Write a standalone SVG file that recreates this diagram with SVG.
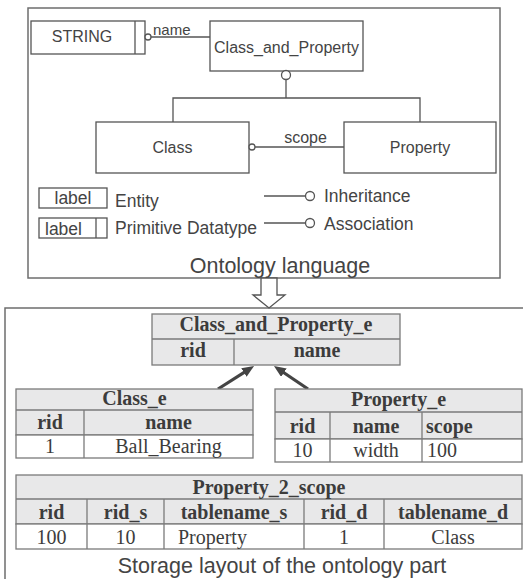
<svg xmlns="http://www.w3.org/2000/svg" width="523" height="579" viewBox="0 0 523 579">
<style>
.frame{fill:none;stroke:#6e6e6e;stroke-width:1.5}
.box{fill:#fff;stroke:#555;stroke-width:1.3}
.ln{fill:none;stroke:#555;stroke-width:1.3}
.circ{fill:#fff;stroke:#555;stroke-width:1.3}
.s{font-family:"Liberation Sans",Arial,sans-serif;fill:#444}
.s16{font-size:16px}
.s15{font-size:15px}
.s17{font-size:17.5px}
.s21{font-size:21.5px}
.tb{fill:#e8e8e9;stroke:#7a7a7a;stroke-width:1.3}
.tw{fill:#fff;stroke:#7a7a7a;stroke-width:1.3}
.tl{stroke:#7a7a7a;stroke-width:1.3}
.t{font-family:"Liberation Serif","Times New Roman",serif;font-size:20px;fill:#3c3c3c}
.b{font-weight:bold}
.m{text-anchor:middle}
.arr{stroke:#444;stroke-width:3.2;fill:none}
</style>
<defs>
<marker id="ah" markerUnits="userSpaceOnUse" viewBox="0 0 12 10" refX="4" refY="5" markerWidth="12" markerHeight="10" orient="auto">
<path d="M0,0 L12,5 L0,10 z" fill="#444"/>
</marker>
</defs>

<!-- frames -->
<rect class="frame" x="28" y="8" width="472" height="270"/>
<path class="frame" d="M5,579 L5,308 L523,308"/>

<!-- Ontology language nodes -->
<g id="STRING">
<rect class="box" x="31" y="21" width="114" height="33"/>
<line class="ln" x1="135" y1="21" x2="135" y2="54"/>
<text class="s s16 m" x="82" y="42">STRING</text>
</g>
<g id="Class_and_Property">
<rect class="box" x="210" y="21" width="153" height="50"/>
<text class="s s16 m" x="286.5" y="53">Class_and_Property</text>
</g>
<g id="Class">
<rect class="box" x="96" y="122" width="153" height="51"/>
<text class="s s16 m" x="172.5" y="153">Class</text>
</g>
<g id="Property">
<rect class="box" x="344" y="122" width="152" height="51"/>
<text class="s s16 m" x="420" y="153">Property</text>
</g>

<g id="connectors">
<line class="ln" x1="151" y1="37" x2="210" y2="37"/>
<circle class="circ" cx="148" cy="37" r="3"/>
<text class="s s15" x="153" y="35">name</text>
<path class="ln" d="M286,79.5 L286,98 M173,122 L173,98 L420,98 L420,122"/>
<circle class="circ" cx="286" cy="75" r="4.5"/>
<line class="ln" x1="255" y1="147" x2="344" y2="147"/>
<circle class="circ" cx="252" cy="147" r="3"/>
<text class="s s16 m" x="305.5" y="143">scope</text>
<polygon points="261,278 261,295 253,295 269,308 285,295 277,295 277,278" fill="#fff" stroke="#555" stroke-width="1.3"/>
<line class="arr" x1="218" y1="389" x2="247.3" y2="370.3" marker-end="url(#ah)"/>
<line class="arr" x1="308" y1="389" x2="280.6" y2="370.5" marker-end="url(#ah)"/>
</g>

<!-- legend -->
<g id="legend">
<rect class="box" x="39" y="188" width="68" height="20"/>
<text class="s s17 m" x="73" y="204">label</text>
<text class="s s17" x="115" y="206.5">Entity</text>
<rect class="box" x="39" y="218" width="68" height="20"/>
<line class="ln" x1="96" y1="218" x2="96" y2="238"/>
<text class="s s17" x="45" y="235">label</text>
<text class="s s17" x="115" y="233.5">Primitive Datatype</text>
<line class="ln" x1="264" y1="196" x2="305.5" y2="196"/>
<circle class="circ" cx="310" cy="196" r="4.5"/>
<text class="s s17" x="324" y="201.5">Inheritance</text>
<line class="ln" x1="264" y1="223" x2="305.5" y2="223"/>
<circle class="circ" cx="310" cy="223" r="4.5"/>
<text class="s s17" x="324" y="230">Association</text>
</g>
<text class="s s21 m" x="280" y="272.5">Ontology language</text>

<!-- Storage tables -->
<g id="Class_and_Property_e">
<rect class="tb" x="152" y="314" width="248" height="51"/>
<line class="tl" x1="152" y1="339" x2="400" y2="339"/>
<line class="tl" x1="234" y1="339" x2="234" y2="365"/>
<text class="t b m" x="276" y="331">Class_and_Property_e</text>
<text class="t b m" x="193" y="357">rid</text>
<text class="t b m" x="317" y="357">name</text>
</g>

<g id="Class_e">
<rect class="tb" x="16" y="389" width="237" height="46"/>
<rect class="tw" x="16" y="435" width="237" height="23"/>
<line class="tl" x1="16" y1="410" x2="253" y2="410"/>
<line class="tl" x1="84" y1="410" x2="84" y2="458"/>
<text class="t b m" x="134.5" y="405">Class_e</text>
<text class="t b m" x="50" y="429">rid</text>
<text class="t b m" x="168.5" y="429">name</text>
<text class="t m" x="50" y="453">1</text>
<text class="t m" x="168.5" y="453">Ball_Bearing</text>
</g>

<g id="Property_e">
<rect class="tb" x="275" y="389" width="247" height="50"/>
<rect class="tw" x="275" y="439" width="247" height="23"/>
<line class="tl" x1="275" y1="412" x2="522" y2="412"/>
<line class="tl" x1="330" y1="412" x2="330" y2="462"/>
<line class="tl" x1="422" y1="412" x2="422" y2="462"/>
<text class="t b m" x="398.5" y="406">Property_e</text>
<text class="t b m" x="302.5" y="433">rid</text>
<text class="t b m" x="376" y="433">name</text>
<text class="t b" x="426" y="433">scope</text>
<text class="t m" x="302.5" y="457">10</text>
<text class="t m" x="376" y="457">width</text>
<text class="t" x="427" y="457">100</text>
</g>

<g id="Property_2_scope">
<rect class="tb" x="16" y="475" width="506" height="49"/>
<rect class="tw" x="16" y="524" width="506" height="25"/>
<line class="tl" x1="16" y1="499" x2="522" y2="499"/>
<line class="tl" x1="87" y1="499" x2="87" y2="549"/>
<line class="tl" x1="164" y1="499" x2="164" y2="549"/>
<line class="tl" x1="304" y1="499" x2="304" y2="549"/>
<line class="tl" x1="384" y1="499" x2="384" y2="549"/>
<text class="t b m" x="269" y="494">Property_2_scope</text>
<text class="t b m" x="51.5" y="519">rid</text>
<text class="t b m" x="125.5" y="519">rid_s</text>
<text class="t b m" x="234" y="519">tablename_s</text>
<text class="t b m" x="344" y="519">rid_d</text>
<text class="t b m" x="453" y="519">tablename_d</text>
<text class="t m" x="51.5" y="544">100</text>
<text class="t m" x="125.5" y="544">10</text>
<text class="t" x="178" y="544">Property</text>
<text class="t m" x="344" y="544">1</text>
<text class="t m" x="453" y="544">Class</text>
</g>
<text class="s s21 m" x="282" y="572.5">Storage layout of the ontology part</text>
</svg>
